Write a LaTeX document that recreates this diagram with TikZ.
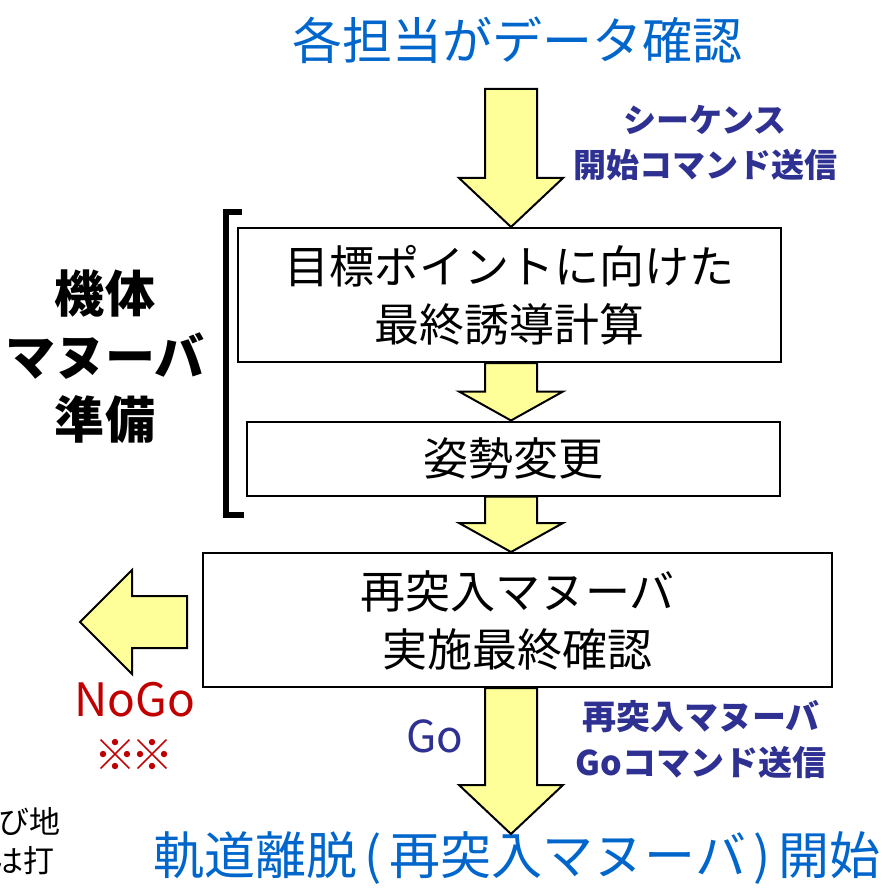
\documentclass[tikz,border=0pt]{standalone}
\usepackage{fontspec}
\setmainfont{Noto Sans CJK JP}
\usetikzlibrary{calc}

\definecolor{titleblue}{HTML}{0066CC}
\definecolor{cmdblue}{HTML}{2E3192}
\definecolor{nogored}{HTML}{C00000}
\definecolor{arrowyellow}{HTML}{FFFF99}

\tikzset{
	stepbox/.style={draw=black, line width=2pt, fill=white, inner sep=0pt, align=center,
		font=\fontsize{45pt}{58pt}\selectfont},
	blockarrow/.style={draw=black, line width=2pt, fill=arrowyellow, line join=miter},
	headline/.style={text=titleblue, font=\fontsize{50pt}{60pt}\selectfont},
	cmdlabel/.style={text=cmdblue, align=center, font=\bfseries\fontsize{33pt}{45pt}\selectfont},
}

% downward block arrow: start, tip, head length
\newcommand{\downblock}[3]{%
	\draw[blockarrow] let \p1=(#1), \p2=(#2) in
		(\x1-26pt,\y1) -- (\x1+26pt,\y1) -- (\x1+26pt,\y2+#3) -- (\x1+52pt,\y2+#3)
		-- (\x1,\y2) -- (\x1-52pt,\y2+#3) -- (\x1-26pt,\y2+#3) -- cycle;}

\begin{document}
\begin{tikzpicture}[x=1pt, y=-1pt]
	\useasboundingbox (0,0) rectangle (885,890);

%% Headlines
	\draw (517,40) node[headline] (title){各担当がデータ確認};
	\draw (517,858) node[headline, font=\fontsize{51pt}{60pt}\selectfont] (deorbit){軌道離脱\kern0.15em(\kern0.15em再突入マヌーバ\kern0.15em)\kern0.15em開始};

%% Steps
	\draw (509.5,295) node[stepbox, minimum width=543pt, minimum height=134pt] (guidance){目標ポイントに向けた\\最終誘導計算};
	\draw (513.5,458.5) node[stepbox, minimum width=533pt, minimum height=74pt] (attitude){姿勢変更};
	\draw (517.5,620) node[stepbox, minimum width=629pt, minimum height=134pt] (finalcheck){再突入マヌーバ\\実施最終確認};

%% Command labels
	\draw (705,143) node[cmdlabel] (seqcmd){シーケンス\\開始コマンド送信};
	\draw (701,740) node[cmdlabel, font=\bfseries\fontsize{34pt}{46pt}\selectfont] (gocmd){再突入マヌーバ\\Goコマンド送信};
	\draw (435,736) node[text=cmdblue, font=\fontsize{44pt}{50pt}\selectfont] (go){Go};
	\draw (135,700) node[text=nogored, font=\fontsize{46pt}{50pt}\selectfont] (nogo){NoGo};
	\draw (134,755) node[text=nogored, font=\fontsize{42pt}{46pt}\selectfont] (nogomark){※\kern-0.1em※};

%% Maneuver prep
	\draw (105,357) node[align=center, font=\bfseries\fontsize{50pt}{63pt}\selectfont] (prep){機体\\マヌーバ\\準備};
	\coordinate (brtop) at ($(guidance.north west)+(-11,-15)$);
	\coordinate (brbot) at ($(attitude.south west)+(-20,18)$);
	\draw[line width=6pt] ($(brtop)+(16,0)$) -- (brtop) -- (brbot) -- ($(brbot)+(18,0)$);

%% Cut-off note
	\draw (64,821) node[anchor=east, font=\fontsize{31pt}{40pt}\selectfont] (note1){び地};
	\draw (58,861) node[anchor=east, font=\fontsize{31pt}{40pt}\selectfont] (note2){は打};

%% Arrows
	\coordinate (axis) at (511,0);
	\coordinate (seqtop) at (511,89);
	\coordinate (gotip) at (511,834);
	\downblock{seqtop}{axis |- guidance.north}{49pt}
	\downblock{axis |- guidance.south}{axis |- attitude.north}{29pt}
	\downblock{axis |- attitude.south}{axis |- finalcheck.north}{29pt}
	\downblock{axis |- finalcheck.south}{gotip}{49pt}
	\coordinate (nogostart) at ($(finalcheck.west)+(-15,2)$);
	\coordinate (nogotip) at (80,622);
	\draw[blockarrow] let \p1=(nogostart), \p2=(nogotip) in
		(\x1,\y1+26pt) -- (\x2+52pt,\y1+26pt) -- (\x2+52pt,\y1+52pt) -- (\x2,\y1)
		-- (\x2+52pt,\y1-52pt) -- (\x2+52pt,\y1-26pt) -- (\x1,\y1-26pt) -- cycle;
\end{tikzpicture}
\end{document}
